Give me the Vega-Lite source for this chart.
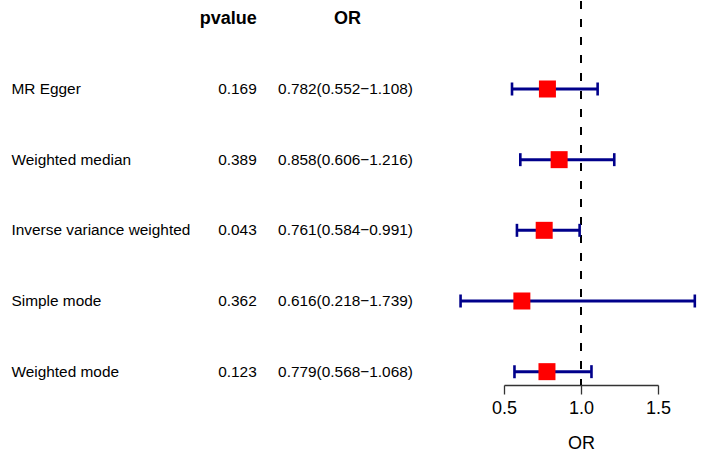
{
  "$schema": "https://vega.github.io/schema/vega-lite/v6.json",
  "background": "white",
  "padding": 0,
  "spacing": 0,
  "bounds": "flush",
  "config": {
    "view": {"stroke": null},
    "font": "Liberation Sans",
    "text": {"font": "Liberation Sans", "color": "black"}
  },
  "datasets": {
    "rows": [
      {"method": "MR Egger", "pval": "0.169", "or": 0.782, "lo": 0.552, "hi": 1.108, "ortext": "0.782(0.552−1.108)"},
      {"method": "Weighted median", "pval": "0.389", "or": 0.858, "lo": 0.606, "hi": 1.216, "ortext": "0.858(0.606−1.216)"},
      {"method": "Inverse variance weighted", "pval": "0.043", "or": 0.761, "lo": 0.584, "hi": 0.991, "ortext": "0.761(0.584−0.991)"},
      {"method": "Simple mode", "pval": "0.362", "or": 0.616, "lo": 0.218, "hi": 1.739, "ortext": "0.616(0.218−1.739)"},
      {"method": "Weighted mode", "pval": "0.123", "or": 0.779, "lo": 0.568, "hi": 1.068, "ortext": "0.779(0.568−1.068)"}
    ]
  },
  "hconcat": [
    {
      "width": 504,
      "height": 384,
      "data": {"name": "rows"},
      "encoding": {
        "y": {
          "field": "method", "type": "nominal", "axis": null,
          "scale": {"type": "point", "domain": ["header", "MR Egger", "Weighted median", "Inverse variance weighted", "Simple mode", "Weighted mode"], "padding": 0.217, "align": 0.565}
        }
      },
      "layer": [
        {
          "mark": {"type": "text", "align": "left", "baseline": "middle", "fontSize": 15.4},
          "encoding": {
            "x": {"datum": 11.5, "type": "quantitative", "scale": {"domain": [0, 504], "nice": false, "zero": false}, "axis": null},
            "text": {"field": "method"}
          }
        },
        {
          "mark": {"type": "text", "align": "right", "baseline": "middle", "fontSize": 15.4},
          "encoding": {
            "x": {"datum": 256.7, "type": "quantitative"},
            "text": {"field": "pval"}
          }
        },
        {
          "mark": {"type": "text", "align": "center", "baseline": "middle", "fontSize": 15.4},
          "encoding": {
            "x": {"datum": 345.5, "type": "quantitative"},
            "text": {"field": "ortext"}
          }
        },
        {
          "data": {"values": [{"label": "pvalue"}]},
          "mark": {"type": "text", "align": "right", "baseline": "middle", "fontSize": 18, "fontWeight": "bold", "dy": 1},
          "encoding": {
            "x": {"datum": 256.7, "type": "quantitative"},
            "y": {"datum": "header", "type": "nominal"},
            "text": {"field": "label"}
          }
        },
        {
          "data": {"values": [{"label": "OR"}]},
          "mark": {"type": "text", "align": "center", "baseline": "middle", "fontSize": 18, "fontWeight": "bold", "dy": 1},
          "encoding": {
            "x": {"datum": 347.5, "type": "quantitative"},
            "y": {"datum": "header", "type": "nominal"},
            "text": {"field": "label"}
          }
        }
      ]
    },
    {
      "width": 154,
      "height": 384,
      "data": {"name": "rows"},
      "layer": [
        {
          "mark": {"type": "rule", "color": "black", "strokeWidth": 2, "strokeDash": [8, 10]},
          "encoding": {
            "x": {
              "datum": 1, "type": "quantitative",
              "scale": {"domain": [0.5, 1.5], "nice": false, "zero": false},
              "axis": {
                "values": [0.5, 1, 1.5], "format": ".1f", "title": "OR", "grid": false,
                "labelFlush": false, "labelFontSize": 18, "labelColor": "black", "labelFont": "Liberation Sans",
                "labelPadding": 5, "tickSize": 9, "tickWidth": 1.3, "tickColor": "#333333",
                "domainColor": "#333333", "domainWidth": 1.3,
                "titleFontSize": 18, "titleFontWeight": "normal", "titleColor": "black", "titleFont": "Liberation Sans", "titlePadding": 17
              }
            }
          }
        },
        {
          "mark": {"type": "rule", "color": "#00008B", "strokeWidth": 3},
          "encoding": {
            "x": {"field": "lo", "type": "quantitative"},
            "x2": {"field": "hi"},
            "y": {"field": "method", "type": "nominal", "axis": null,
              "scale": {"type": "point", "domain": ["header", "MR Egger", "Weighted median", "Inverse variance weighted", "Simple mode", "Weighted mode"], "padding": 0.217, "align": 0.565}}
          }
        },
        {
          "mark": {"type": "tick", "color": "#00008B", "thickness": 2.6, "size": 13, "opacity": 1},
          "encoding": {
            "x": {"field": "lo", "type": "quantitative"},
            "y": {"field": "method", "type": "nominal"}
          }
        },
        {
          "mark": {"type": "tick", "color": "#00008B", "thickness": 2.6, "size": 13, "opacity": 1},
          "encoding": {
            "x": {"field": "hi", "type": "quantitative"},
            "y": {"field": "method", "type": "nominal"}
          }
        },
        {
          "mark": {"type": "square", "color": "#FF0000", "size": 289, "opacity": 1},
          "encoding": {
            "x": {"field": "or", "type": "quantitative"},
            "y": {"field": "method", "type": "nominal"}
          }
        }
      ]
    }
  ]
}
